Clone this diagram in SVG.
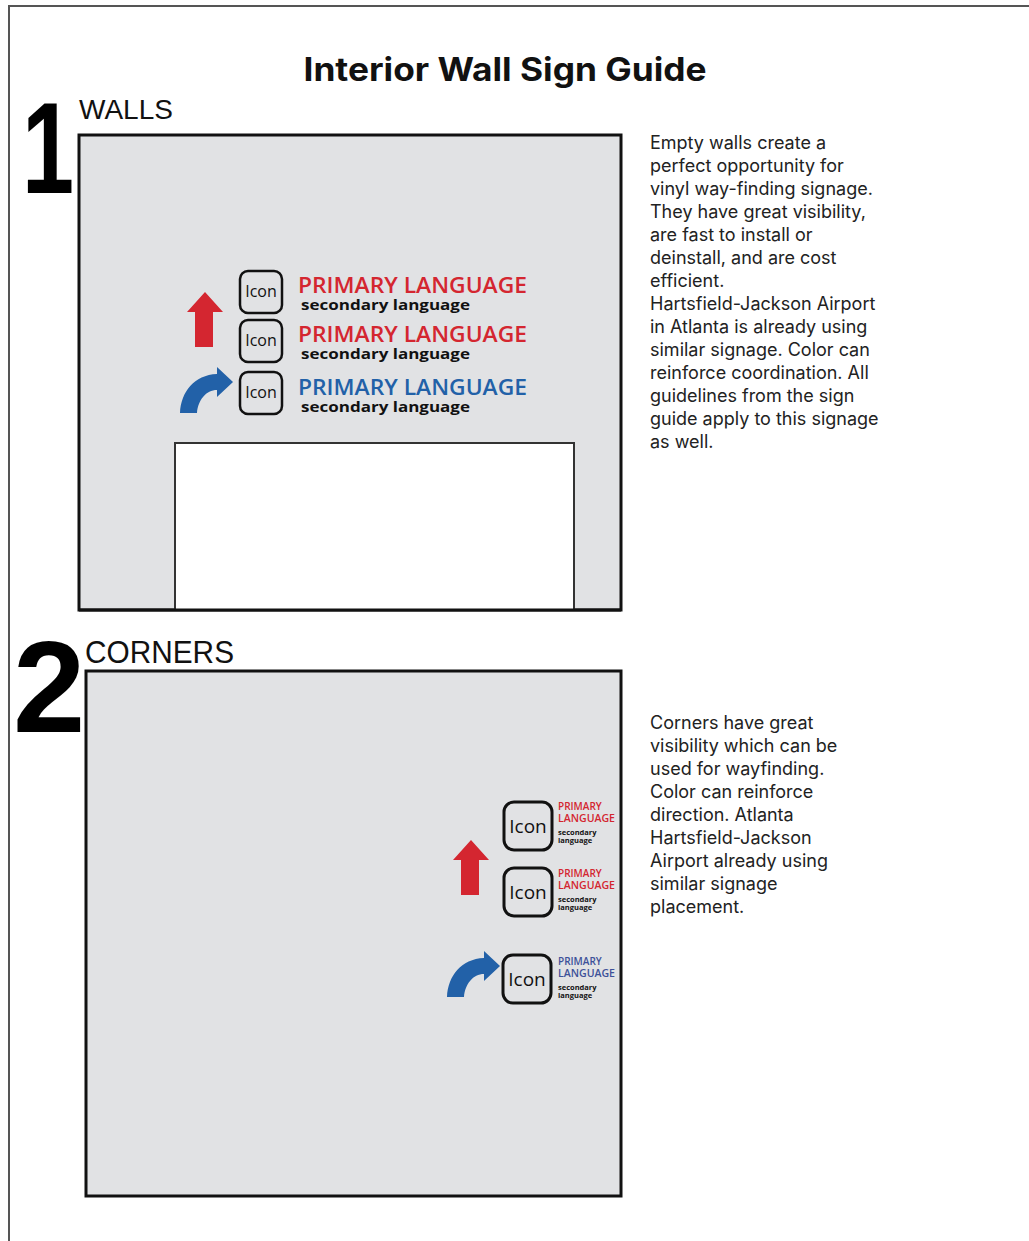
<svg xmlns="http://www.w3.org/2000/svg" xmlns:xlink="http://www.w3.org/1999/xlink" width="1029" height="1241" viewBox="0 0 1029 1241">
<style>
.wall{fill:#e1e2e4;stroke:#111;stroke-width:3}
.door{fill:#fff;stroke:#333;stroke-width:2}
.icon{fill:none;stroke:#111;stroke-width:2.5}
.icon2{fill:none;stroke:#111;stroke-width:3}
.icontxt{font-family:"Open Sans",sans-serif;font-size:16px;fill:#111;text-anchor:middle}
.icontxt2{font-family:"Open Sans",sans-serif;font-size:19px;font-weight:500;fill:#111;text-anchor:middle}
.prim{font-family:"Open Sans",sans-serif;font-size:21px;font-weight:600}
.sec{font-family:"Open Sans",sans-serif;font-size:15px;font-weight:700;fill:#111}
.prim2{font-family:"Open Sans",sans-serif;font-size:10px;font-weight:600}
.sec2{font-family:"Open Sans",sans-serif;font-size:7.5px;font-weight:700;fill:#111}
.red{fill:#d42630}
.blue{fill:#2261a8}
.blue2{fill:#3d5199}
.para{font-family:Inter,"Liberation Sans",sans-serif;font-size:18px;fill:#222}
.num{font-family:"Liberation Sans",Arial,sans-serif;font-weight:700;fill:#000}
.head{font-family:"Liberation Sans",Arial,sans-serif;fill:#111}
</style>
<defs>
<path id="uparrow" d="M205,292 L223,312 L213,312 L213,347 L195,347 L195,312 L187,312 Z"/>
<path id="curvearrow" d="M180,413 C181,392 194,375 217,374 L217,367 L233,382 L217,397 L217,390 C206,390 198,400 197,413 Z"/>
</defs>
<rect width="1029" height="1241" fill="#fff"/>
<g id="page-border" fill="none" stroke="#555" stroke-width="2">
<path d="M9,1241 L9,6 L1029,6"/>
</g>
<g id="title">
<text x="505" y="81" text-anchor="middle" font-family="Inter,'Liberation Sans',sans-serif" font-weight="700" font-size="32" fill="#111" textLength="403" lengthAdjust="spacingAndGlyphs">Interior Wall Sign Guide</text>
</g>
<g id="section1">
<text class="num" x="0" y="0" font-size="130" transform="translate(22,193) scale(0.72,1)">1</text>
<text class="head" x="79" y="119" font-size="28">WALLS</text>
<rect class="wall" x="79" y="135" width="542" height="475"/>
<rect class="door" x="175" y="443" width="399" height="167"/>
<line x1="79" y1="610" x2="621" y2="610" stroke="#111" stroke-width="3"/>
<g id="s1-sign1">
<rect class="icon" x="240" y="271" width="42" height="42" rx="8"/>
<text class="icontxt" x="261" y="297">Icon</text>
<text class="prim red" x="298" y="293" textLength="229" lengthAdjust="spacingAndGlyphs">PRIMARY LANGUAGE</text>
<text class="sec" x="301" y="310" textLength="169" lengthAdjust="spacingAndGlyphs">secondary language</text>
</g>
<g id="s1-sign2">
<rect class="icon" x="240" y="320" width="42" height="42" rx="8"/>
<text class="icontxt" x="261" y="346">Icon</text>
<text class="prim red" x="298" y="342" textLength="229" lengthAdjust="spacingAndGlyphs">PRIMARY LANGUAGE</text>
<text class="sec" x="301" y="359" textLength="169" lengthAdjust="spacingAndGlyphs">secondary language</text>
</g>
<g id="s1-sign3">
<rect class="icon" x="240" y="372" width="42" height="42" rx="8"/>
<text class="icontxt" x="261" y="398">Icon</text>
<text class="prim blue" x="298" y="395" textLength="229" lengthAdjust="spacingAndGlyphs">PRIMARY LANGUAGE</text>
<text class="sec" x="301" y="412" textLength="169" lengthAdjust="spacingAndGlyphs">secondary language</text>
</g>
<use xlink:href="#uparrow" href="#uparrow" class="red"/>
<use xlink:href="#curvearrow" href="#curvearrow" class="blue"/>
<text class="para" x="650" y="149">
<tspan x="650" y="149">Empty walls create a</tspan>
<tspan x="650" y="172">perfect opportunity for</tspan>
<tspan x="650" y="195">vinyl way-finding signage.</tspan>
<tspan x="650" y="218">They have great visibility,</tspan>
<tspan x="650" y="241">are fast to install or</tspan>
<tspan x="650" y="264">deinstall, and are cost</tspan>
<tspan x="650" y="287">efficient.</tspan>
<tspan x="650" y="310">Hartsfield-Jackson Airport</tspan>
<tspan x="650" y="333">in Atlanta is already using</tspan>
<tspan x="650" y="356">similar signage. Color can</tspan>
<tspan x="650" y="379">reinforce coordination. All</tspan>
<tspan x="650" y="402">guidelines from the sign</tspan>
<tspan x="650" y="425">guide apply to this signage</tspan>
<tspan x="650" y="448">as well.</tspan>
</text>
</g>
<g id="section2">
<text class="num" x="13" y="732" font-size="130">2</text>
<text class="head" x="85" y="663" font-size="31" textLength="149" lengthAdjust="spacingAndGlyphs">CORNERS</text>
<rect class="wall" x="86" y="671" width="535" height="525"/>
<g id="s2-sign1">
<rect class="icon2" x="504" y="802" width="48" height="48" rx="10"/>
<text class="icontxt2" x="528" y="833">Icon</text>
<text class="prim2 red" x="558" y="810">PRIMARY</text>
<text class="prim2 red" x="558" y="822" textLength="57" lengthAdjust="spacingAndGlyphs">LANGUAGE</text>
<text class="sec2" x="558" y="835">secondary</text>
<text class="sec2" x="558" y="843">language</text>
</g>
<g id="s2-sign2">
<rect class="icon2" x="504" y="868" width="48" height="48" rx="10"/>
<text class="icontxt2" x="528" y="899">Icon</text>
<text class="prim2 red" x="558" y="877">PRIMARY</text>
<text class="prim2 red" x="558" y="889" textLength="57" lengthAdjust="spacingAndGlyphs">LANGUAGE</text>
<text class="sec2" x="558" y="902">secondary</text>
<text class="sec2" x="558" y="910">language</text>
</g>
<g id="s2-sign3">
<rect class="icon2" x="503" y="955" width="48" height="48" rx="10"/>
<text class="icontxt2" x="527" y="986">Icon</text>
<text class="prim2 blue2" x="558" y="965">PRIMARY</text>
<text class="prim2 blue2" x="558" y="977" textLength="57" lengthAdjust="spacingAndGlyphs">LANGUAGE</text>
<text class="sec2" x="558" y="990">secondary</text>
<text class="sec2" x="558" y="998">language</text>
</g>
<use xlink:href="#uparrow" href="#uparrow" class="red" transform="translate(266,548)"/>
<use xlink:href="#curvearrow" href="#curvearrow" class="blue" transform="translate(267,584)"/>
<text class="para" x="650" y="729">
<tspan x="650" y="729">Corners have great</tspan>
<tspan x="650" y="752">visibility which can be</tspan>
<tspan x="650" y="775">used for wayfinding.</tspan>
<tspan x="650" y="798">Color can reinforce</tspan>
<tspan x="650" y="821">direction. Atlanta</tspan>
<tspan x="650" y="844">Hartsfield-Jackson</tspan>
<tspan x="650" y="867">Airport already using</tspan>
<tspan x="650" y="890">similar signage</tspan>
<tspan x="650" y="913">placement.</tspan>
</text>
</g>
</svg>
